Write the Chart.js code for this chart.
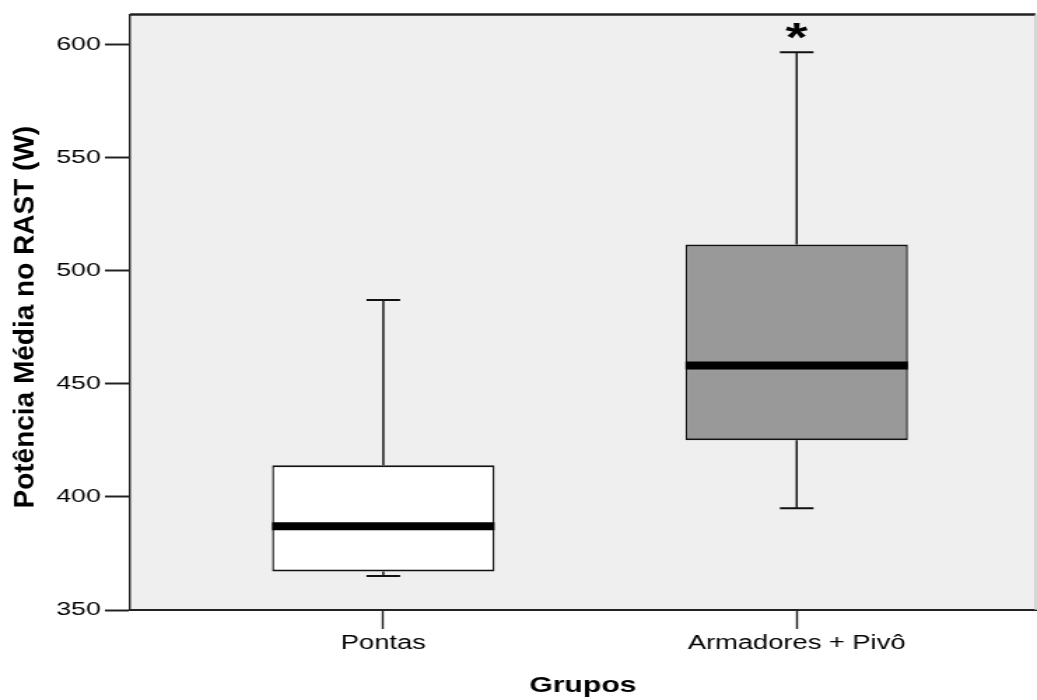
<!DOCTYPE html>
<html>
<head>
<meta charset="utf-8">
<script src="https://cdn.jsdelivr.net/npm/chart.js@4.4.1/dist/chart.umd.min.js"></script>
<style>
html, body { margin: 0; padding: 0; background: #fff; overflow: hidden; }
/* the reference is stretched sideways, so draw narrow and widen it */
#wrap { width: 741px; height: 700px; transform: scaleX(1.39946); transform-origin: 0 0; }
</style>
</head>
<body>
<div id="wrap"><canvas id="boxChart" width="741" height="700"></canvas></div>
<script>
const groups = ['Pontas', 'Armadores + Pivô'];
const groupPos = [1, 2];
const whiskerLow = [365, 395];
const q1 = [367, 425];
const medians = [387, 458];
const q3 = [414, 511.5];
const whiskerHigh = [487, 596.5];
const outliers = [[], [606]];
const boxColors = ['#ffffff', '#999999'];
const yTicks = [350, 400, 450, 500, 550, 600];
const yTitle = 'Potência Média no RAST (W)';

const SX = 1037 / 741;   // horizontal stretch
const vLine = 2 / SX;    // vertical lines look 2px after stretch
const FONT = '"Liberation Sans", Arial, sans-serif';

Chart.defaults.font.family = FONT;

const boxExtras = {
  id: 'boxExtras',
  beforeDraw(chart) {
    const { ctx, chartArea: a } = chart;
    ctx.save();
    ctx.fillStyle = '#efefef';
    ctx.fillRect(a.left, a.top, a.right - a.left, a.bottom - a.top);
    ctx.restore();
  },
  beforeDatasetsDraw(chart) {
    const { ctx, scales: { x, y } } = chart;
    ctx.save();
    ctx.strokeStyle = '#111';
    groupPos.forEach((g, i) => {
      const px = x.getPixelForValue(g);
      const half = 12;
      // stems
      ctx.lineWidth = vLine;
      ctx.beginPath();
      ctx.moveTo(px, y.getPixelForValue(q3[i]));
      ctx.lineTo(px, y.getPixelForValue(whiskerHigh[i]));
      ctx.moveTo(px, y.getPixelForValue(q1[i]));
      ctx.lineTo(px, y.getPixelForValue(whiskerLow[i]));
      ctx.stroke();
      // caps
      ctx.lineWidth = 2;
      ctx.beginPath();
      [whiskerHigh[i], whiskerLow[i]].forEach(v => {
        const py = y.getPixelForValue(v);
        ctx.moveTo(px - half, py);
        ctx.lineTo(px + half, py);
      });
      ctx.stroke();
    });
    ctx.restore();
  },
  afterDatasetsDraw(chart) {
    const { ctx, chartArea: a, scales: { x, y } } = chart;
    const meta = chart.getDatasetMeta(0);
    ctx.save();
    // medians
    ctx.strokeStyle = '#000';
    ctx.lineWidth = 8;
    meta.data.forEach((bar, i) => {
      const py = y.getPixelForValue(medians[i]);
      const w = bar.width;
      ctx.beginPath();
      ctx.moveTo(bar.x - w / 2, py);
      ctx.lineTo(bar.x + w / 2, py);
      ctx.stroke();
    });
    // extreme values as asterisks
    ctx.font = 'bold 100px ' + FONT;
    const m = ctx.measureText('*');
    const h = m.actualBoundingBoxAscent + m.actualBoundingBoxDescent;
    ctx.font = 'bold ' + (100 * 15.5 / h) + 'px ' + FONT;
    const m2 = ctx.measureText('*');
    ctx.fillStyle = '#000';
    ctx.textAlign = 'center';
    ctx.textBaseline = 'alphabetic';
    outliers.forEach((list, i) => {
      list.forEach(v => {
        const px = x.getPixelForValue(groupPos[i]);
        const py = y.getPixelForValue(v);
        ctx.fillText('*', px, py + (m2.actualBoundingBoxAscent - m2.actualBoundingBoxDescent) / 2);
      });
    });
    // frame: top and right
    ctx.strokeStyle = '#222';
    ctx.lineWidth = 2.5;
    ctx.beginPath();
    ctx.moveTo(a.left, a.top);
    ctx.lineTo(a.right, a.top);
    ctx.stroke();
    ctx.strokeStyle = '#c8c8c8';
    ctx.lineWidth = vLine;
    ctx.beginPath();
    ctx.moveTo(a.right, a.top);
    ctx.lineTo(a.right, a.bottom);
    ctx.stroke();
    ctx.restore();
  },
  afterDraw(chart) {
    // y title is not stretched in the reference, so undo the stretch for it
    const { ctx, chartArea: a } = chart;
    ctx.save();
    ctx.translate(25.8 / SX, (a.top + a.bottom) / 2 + 5);
    ctx.scale(1 / SX, 1);
    ctx.rotate(-Math.PI / 2);
    ctx.font = 'bold 28px ' + FONT;
    ctx.fillStyle = '#000';
    ctx.textAlign = 'center';
    ctx.textBaseline = 'middle';
    ctx.fillText(yTitle, 0, 0);
    ctx.restore();
  }
};

const chart = new Chart(document.getElementById('boxChart'), {
  type: 'bar',
  data: {
    datasets: [{
      data: groupPos.map((g, i) => ({ x: g, y: [q1[i], q3[i]] })),
      backgroundColor: boxColors,
      borderColor: '#111',
      borderWidth: { top: 2, bottom: 2, left: vLine, right: vLine },
      borderSkipped: false,
      barPercentage: 0.538,
      categoryPercentage: 1
    }]
  },
  options: {
    responsive: false,
    animation: false,
    layout: { padding: { top: 14, right: 1, left: 0, bottom: 0 } },
    plugins: { legend: { display: false }, tooltip: { enabled: false } },
    scales: {
      x: {
        type: 'linear',
        min: 0.3876,
        max: 2.578,
        offset: false,
        afterBuildTicks: s => { s.ticks = groupPos.map(v => ({ value: v })); },
        afterFit: s => { s.height = 90; },
        ticks: {
          callback: (v, i) => groups[i],
          font: { size: 19.5 },
          color: '#000',
          padding: 3,
          autoSkip: false,
          maxRotation: 0
        },
        grid: { offset: false, drawOnChartArea: false, tickLength: 19, tickWidth: vLine, tickColor: '#222' },
        border: { color: '#222', width: 2 },
        title: {
          display: true,
          text: 'Grupos',
          font: { size: 21.5, weight: 'bold' },
          color: '#000',
          padding: { top: 0, bottom: 1 }
        }
      },
      y: {
        min: 350,
        max: 613.2,
        afterBuildTicks: s => { s.ticks = yTicks.map(v => ({ value: v })); },
        afterFit: s => { s.width = 93; },
        ticks: { font: { size: 19 }, color: '#000', padding: 3 },
        grid: { drawOnChartArea: false, tickLength: 18, tickWidth: 2, tickColor: '#222' },
        border: { color: '#222', width: vLine },
        title: { display: false }
      }
    }
  },
  plugins: [boxExtras]
});
</script>
</body>
</html>
